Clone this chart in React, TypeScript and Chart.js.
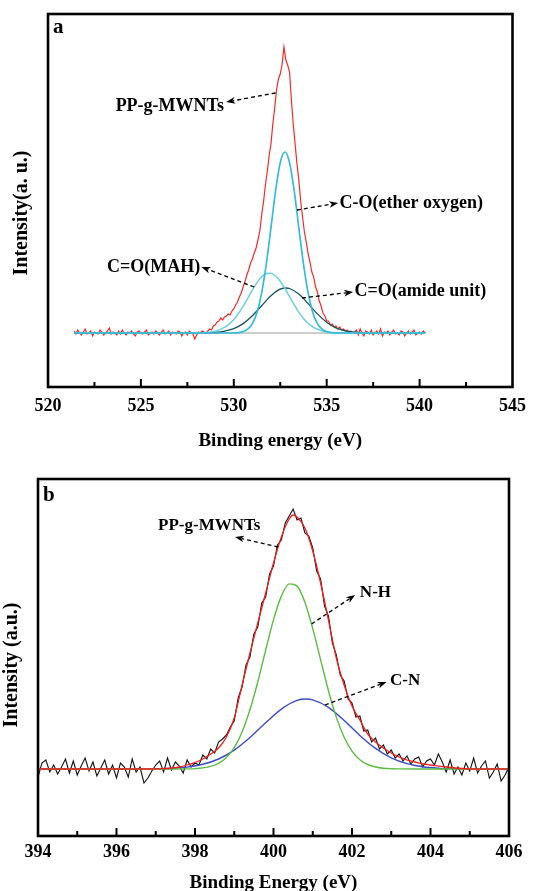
import React, { useEffect, useRef } from 'react';
import { Chart, registerables } from 'chart.js';

Chart.register(...registerables);

const FONT = '"Liberation Serif", "Times New Roman", serif';

// ---------------- Panel a : O 1s (Binding energy, eV) ----------------
const A_X_MIN = 520;
const A_X_MAX = 545;
const A_Y_MIN = -54;
const A_Y_MAX = 319;
const A_STEP = 0.1;

// raw spectrum (red), three segments sampled every 0.1 eV
const A_RED_LEFT_START = 521.4;
const A_RED_LEFT = [
  2, -1, 3, 0, -2, 1, 4, -1, 0, 2,
  -3, 1, 0, -1, 3, 1, -2, 0, 2, 5,
  -1, 1, 0, -2, 2, -1, 3, 0, -2, 1,
  0, 2, -1, -3, 1, 2, 0, -1, 1, 3,
  -2, 0, 1, -1, 2, 0, -2, 1, 3, -1,
  0, 2, -2, 1, 0, -1, 2, 1, -3, 0,
  1, -2, 2, 0, -1, -6, -2, 1, 0, 2,
  1, 0,
];
const A_RED_MID_START = 528.6;
const A_RED_MID = [
  2, 4, 3, 7, 8, 11, 12, 15, 13, 16,
  17, 19, 18, 22, 24, 28, 31, 36, 40, 46,
  51, 58, 63, 70, 74, 80, 85, 93, 102, 118,
  131, 148, 161, 177, 189, 209, 225, 243, 254, 259,
  269, 286, 273, 268, 261, 233, 209, 189, 169, 153,
  132, 116, 101, 91, 79, 71, 61, 56, 46, 41,
  32, 27, 20, 17, 12, 12, 8, 9, 6, 7,
  4, 6, 3, 4, 2, 3, 1, 2, 0, 1,
];
const A_RED_RIGHT_START = 536.6;
const A_RED_RIGHT = [
  3, -2, 4, 0, -3, 2, 1, -1, 3, -2,
  0, 2, -1, 4, -3, 1, 0, 2, -2, 1,
  3, -1, 0, -2, 2, 1, -3, 0, 2, -1,
  1, 3, -2, 0, 1, -1, 2, 0,
];

// fitted components [eV, intensity]
const A_CO_ETHER: [number, number][] = [
  [521.4, 0], [529.75, 0], [530, 0.1], [530.25, 0.4], [530.5, 1.4], [530.75, 3.8],
  [531, 9.4], [531.25, 20.6], [531.5, 40.1], [531.75, 69], [532, 105.2], [532.25, 142.3],
  [532.5, 170.4], [532.75, 181], [533, 170.4], [533.25, 142.3], [533.5, 105.2], [533.75, 69],
  [534, 40.1], [534.25, 20.6], [534.5, 9.4], [534.75, 3.8], [535, 1.4], [535.25, 0.4],
  [535.5, 0.1], [535.75, 0], [540.3, 0],
];
const A_CO_MAH: [number, number][] = [
  [521.4, 0], [527.5, 0], [528, 0.1], [528.5, 0.5], [529, 1.9], [529.5, 5.6], [529.75, 8.9],
  [530, 13.5], [530.25, 19.5], [530.5, 26.7], [530.75, 34.7], [531, 42.9], [531.25, 50.4],
  [531.5, 56.2], [531.75, 59.4], [532, 59.8], [532.25, 57], [532.5, 51.7], [532.75, 44.5],
  [533, 36.4], [533.25, 28.3], [533.5, 20.8], [533.75, 14.6], [534, 9.7], [534.25, 6.1],
  [534.5, 3.7], [535, 1.1], [535.5, 0.3], [536, 0], [540.3, 0],
];
const A_CO_AMIDE: [number, number][] = [
  [521.4, 0], [527.5, 0], [528, 0.05], [528.5, 0.2], [529, 0.6], [529.5, 1.8], [530, 4.4],
  [530.5, 9.4], [531, 17.3], [531.5, 27.3], [532, 37.2], [532.5, 43.8], [532.8, 45],
  [533, 44.5], [533.5, 38.9], [534, 29.4], [534.5, 19.1], [535, 10.8], [535.5, 5.2],
  [536, 2.2], [536.5, 0.8], [537, 0.2], [537.5, 0], [540.3, 0],
];
const A_BACKGROUND: [number, number][] = [[521.4, 0], [540.3, 0]];

type Note = {
  text: string;
  from: [number, number];
  to: [number, number];
  at: [number, number];
  align: CanvasTextAlign;
};

const A_NOTES: Note[] = [
  { text: 'PP-g-MWNTs', from: [532.25, 240], to: [529.59, 231], at: [529.47, 227], align: 'right' },
  { text: 'C-O(ether oxygen)', from: [533.4, 123], to: [535.62, 130], at: [535.69, 130], align: 'left' },
  { text: 'C=O(MAH)', from: [531.1, 46], to: [528.26, 66], at: [528.19, 66], align: 'right' },
  { text: 'C=O(amide unit)', from: [533.67, 35], to: [536.42, 41], at: [536.49, 42], align: 'left' },
];

// ---------------- Panel b : N 1s (Binding Energy, eV) ----------------
const B_X_MIN = 394;
const B_X_MAX = 406;
const B_Y_MIN = -67;
const B_Y_MAX = 290;
const B_STEP = 0.1;

const B_RAW_START = 394.0;
const B_RAW = [
  -8, 6, 9, -3, 4, -5, 2, 10, -4, 8,
  -6, 3, 11, -2, 7, -7, 1, 9, -5, 4,
  -9, 6, 2, -8, 10, -3, 2, -14, -9, -2,
  4,
  8, -3, 11, -1, 7, 3, -4, 9, 2, 6,
  4, 14, 10, 20, 16, 27, 30, 34, 42,
  48, 71, 82, 104, 112, 135, 142, 166, 172, 195,
  203, 224, 229, 246, 253, 260, 249, 251, 236, 233,
  221, 198, 190, 163, 153, 126, 114, 94, 88, 70,
  66, 52, 53, 38, 39, 27, 31, 20, 24, 15,
  19, 11, 15, 8, 13, 5, 10, 12, 2, 8,
  10, 4, 15, 7, -3, 9, -5, 2, -6, 6,
  -2, 11, -4, 3, 8, -9, -3, 5, -12, -6, 2,
];

const B_ENVELOPE: [number, number][] = [
  [394, 0], [397, 0], [397.2, 0.3], [397.4, 1], [397.6, 2], [397.8, 4], [398, 6.5],
  [398.2, 10], [398.4, 15], [398.6, 21], [398.8, 32], [399, 51], [399.2, 84], [399.4, 116],
  [399.6, 146], [399.8, 176], [400, 206], [400.2, 232], [400.4, 250], [400.5, 254],
  [400.6, 252], [400.8, 241], [401, 218], [401.2, 186], [401.4, 149], [401.6, 111],
  [401.8, 84], [402, 63], [402.2, 49], [402.4, 35], [402.6, 27], [402.8, 21], [403, 16],
  [403.2, 12], [403.4, 9], [403.6, 7], [403.8, 5], [404, 4], [404.4, 2], [404.8, 0.5],
  [405.2, 0], [406, 0],
];
const B_NH: [number, number][] = [
  [394, 0], [397.4, 0], [397.8, 0.15], [398, 0.4], [398.2, 1.1], [398.4, 2.6], [398.6, 5.6],
  [398.8, 11.4], [399, 21.4], [399.2, 37.1], [399.4, 59.2], [399.6, 87.2], [399.8, 118.7],
  [400, 149.1], [400.2, 172.9], [400.4, 185.1], [400.6, 182.9], [400.8, 166.8], [401, 140.4],
  [401.2, 109.2], [401.4, 78.3], [401.6, 51.9], [401.8, 31.7], [402, 17.9], [402.2, 9.3],
  [402.4, 4.5], [402.6, 2], [402.8, 0.8], [403, 0.3], [403.2, 0.1], [403.6, 0], [406, 0],
];
const B_CN: [number, number][] = [
  [394, 0], [396.2, 0], [396.6, 0.06], [397, 0.2], [397.4, 0.7], [397.8, 1.9], [398.2, 4.7],
  [398.6, 10], [399, 18.9], [399.4, 31.5], [399.8, 46.2], [400.2, 59.9], [400.6, 68.6],
  [400.83, 70], [401, 69.2], [401.4, 61.7], [401.8, 48.5], [402.2, 33.6], [402.6, 20.6],
  [403, 11.1], [403.4, 5.3], [403.8, 2.2], [404.2, 0.8], [404.6, 0.3], [405, 0.1],
  [405.4, 0], [406, 0],
];

const B_NOTES: Note[] = [
  { text: 'PP-g-MWNTs', from: [400.12, 222], to: [399.02, 232], at: [397.06, 243], align: 'left' },
  { text: 'N-H', from: [400.97, 145], to: [402.08, 174], at: [402.2, 176], align: 'left' },
  { text: 'C-N', from: [401.31, 64], to: [402.88, 87], at: [402.97, 88], align: 'left' },
];

// ---------------- helpers ----------------
function seq(start: number, step: number, values: number[]) {
  return values.map((v, i) => ({ x: Math.round((start + i * step) * 1000) / 1000, y: v }));
}
function pts(arr: [number, number][]) {
  return arr.map(([x, y]) => ({ x, y }));
}

interface Decor {
  letter: string;
  letterX: number;
  letterY: number;
  xTitle: string;
  xTitleY: number;
  yTitle: string;
  yTitleX: number;
  yTitleY: number;
  major: number;
  minor: number;
  notes: Note[];
  noteSize: number;
}

function decorPlugin(d: Decor) {
  return {
    id: 'decor',
    afterDatasetsDraw(chart: any) {
      const { ctx, scales } = chart;
      const x = scales.x;
      const y = scales.y;
      ctx.save();
      ctx.fillStyle = '#000';
      ctx.strokeStyle = '#000';
      for (const n of d.notes) {
        const sx = x.getPixelForValue(n.from[0]);
        const sy = y.getPixelForValue(n.from[1]);
        const ex = x.getPixelForValue(n.to[0]);
        const ey = y.getPixelForValue(n.to[1]);
        const ang = Math.atan2(ey - sy, ex - sx);
        const hl = 9;
        const hw = 3.4;
        const bx = ex - hl * Math.cos(ang);
        const by = ey - hl * Math.sin(ang);
        ctx.lineWidth = 1.3;
        ctx.setLineDash([4, 3]);
        ctx.beginPath();
        ctx.moveTo(sx, sy);
        ctx.lineTo(bx + 2 * Math.cos(ang), by + 2 * Math.sin(ang));
        ctx.stroke();
        ctx.setLineDash([]);
        ctx.beginPath();
        ctx.moveTo(ex, ey);
        ctx.lineTo(bx - hw * Math.sin(ang), by + hw * Math.cos(ang));
        ctx.lineTo(bx + 2.5 * Math.cos(ang), by + 2.5 * Math.sin(ang));
        ctx.lineTo(bx + hw * Math.sin(ang), by - hw * Math.cos(ang));
        ctx.closePath();
        ctx.fill();
        ctx.font = `bold ${d.noteSize}px ${FONT}`;
        ctx.textAlign = n.align;
        ctx.textBaseline = 'middle';
        ctx.fillText(n.text, x.getPixelForValue(n.at[0]), y.getPixelForValue(n.at[1]));
      }
      ctx.restore();
    },
    afterDraw(chart: any) {
      const { ctx, chartArea: ca, scales } = chart;
      const x = scales.x;
      ctx.save();
      ctx.strokeStyle = '#000';
      ctx.fillStyle = '#000';
      // frame
      ctx.lineWidth = 2.6;
      ctx.strokeRect(ca.left, ca.top, ca.right - ca.left, ca.bottom - ca.top);
      // inward ticks on bottom axis
      ctx.lineWidth = 2;
      const min = x.min;
      const max = x.max;
      const count = Math.round((max - min) / d.minor);
      for (let i = 1; i < count; i++) {
        const v = min + i * d.minor;
        const px = x.getPixelForValue(v);
        const r = (v - min) / d.major;
        const isMajor = Math.abs(r - Math.round(r)) < 1e-6;
        const len = isMajor ? 8 : 5;
        ctx.beginPath();
        ctx.moveTo(px, ca.bottom);
        ctx.lineTo(px, ca.bottom - len);
        ctx.stroke();
      }
      // x title
      ctx.font = `bold 19px ${FONT}`;
      ctx.textAlign = 'center';
      ctx.textBaseline = 'alphabetic';
      ctx.fillText(d.xTitle, (ca.left + ca.right) / 2, d.xTitleY);
      // y title
      ctx.save();
      ctx.translate(d.yTitleX, d.yTitleY);
      ctx.rotate(-Math.PI / 2);
      ctx.font = `bold 20px ${FONT}`;
      ctx.textAlign = 'center';
      ctx.textBaseline = 'middle';
      ctx.fillText(d.yTitle, 0, 0);
      ctx.restore();
      // panel letter
      ctx.font = `bold 21px ${FONT}`;
      ctx.textAlign = 'left';
      ctx.textBaseline = 'alphabetic';
      ctx.fillText(d.letter, d.letterX, d.letterY);
      ctx.restore();
    },
  };
}

function makeChart(
  canvas: HTMLCanvasElement,
  datasets: any[],
  xMin: number,
  xMax: number,
  step: number,
  yMin: number,
  yMax: number,
  pad: { left: number; right: number; top: number; bottom: number },
  xAxisH: number,
  tickPad: number,
  decor: Decor
) {
  return new Chart(canvas, {
    type: 'line',
    data: { datasets },
    options: {
      animation: false,
      responsive: false,
      maintainAspectRatio: false,
      events: [],
      layout: { padding: pad },
      elements: { point: { radius: 0 } },
      plugins: { legend: { display: false }, tooltip: { enabled: false } },
      scales: {
        x: {
          type: 'linear',
          min: xMin,
          max: xMax,
          afterFit: (s: any) => {
            s.height = xAxisH;
          },
          grid: { display: false, drawTicks: false },
          border: { display: false },
          ticks: {
            stepSize: step,
            padding: tickPad,
            autoSkip: false,
            maxRotation: 0,
            color: '#000',
            font: { family: FONT, size: 18, weight: 'bold' },
            callback: (v: any) => String(v),
          },
        },
        y: { display: false, min: yMin, max: yMax },
      },
    } as any,
    plugins: [decorPlugin(decor) as any],
  });
}

export default function App() {
  const refA = useRef<HTMLCanvasElement>(null);
  const refB = useRef<HTMLCanvasElement>(null);

  useEffect(() => {
    const redA = [
      ...seq(A_RED_LEFT_START, A_STEP, A_RED_LEFT),
      ...seq(A_RED_MID_START, A_STEP, A_RED_MID),
      ...seq(A_RED_RIGHT_START, A_STEP, A_RED_RIGHT),
    ];
    const dsA = [
      { label: 'C-O(ether oxygen)', data: pts(A_CO_ETHER), borderColor: '#35bcd6', borderWidth: 1.7, cubicInterpolationMode: 'monotone' },
      { label: 'C=O(MAH)', data: pts(A_CO_MAH), borderColor: '#6ccfe0', borderWidth: 1.5, cubicInterpolationMode: 'monotone' },
      { label: 'C=O(amide unit)', data: pts(A_CO_AMIDE), borderColor: '#15545a', borderWidth: 1.3, cubicInterpolationMode: 'monotone' },
      { label: 'background', data: pts(A_BACKGROUND), borderColor: '#9a9a9a', borderWidth: 1 },
      { label: 'PP-g-MWNTs', data: redA, borderColor: '#f42a2a', borderWidth: 1.2, tension: 0 },
    ];
    const dsB = [
      { label: 'fit', data: pts(B_ENVELOPE), borderColor: '#f41e1e', borderWidth: 1.3, cubicInterpolationMode: 'monotone' },
      { label: 'N-H', data: pts(B_NH), borderColor: '#5cbc44', borderWidth: 1.4, cubicInterpolationMode: 'monotone' },
      { label: 'C-N', data: pts(B_CN), borderColor: '#3a4cc0', borderWidth: 1.4, cubicInterpolationMode: 'monotone' },
      { label: 'PP-g-MWNTs', data: seq(B_RAW_START, B_STEP, B_RAW), borderColor: '#111111', borderWidth: 1.1, tension: 0 },
    ];

    const a = makeChart(
      refA.current!, dsA, A_X_MIN, A_X_MAX, 5, A_Y_MIN, A_Y_MAX,
      { left: 48, right: 17, top: 14, bottom: 0 }, 455 - 387, 9,
      {
        letter: 'a', letterX: 53, letterY: 33,
        xTitle: 'Binding energy (eV)', xTitleY: 446,
        yTitle: 'Intensity(a. u.)', yTitleX: 22, yTitleY: 213,
        major: 5, minor: 2.5, notes: A_NOTES, noteSize: 18,
      }
    );
    const b = makeChart(
      refB.current!, dsB, B_X_MIN, B_X_MAX, 2, B_Y_MIN, B_Y_MAX,
      { left: 38, right: 26, top: 24, bottom: 0 }, 436 - 381, 6,
      {
        letter: 'b', letterX: 43, letterY: 46,
        xTitle: 'Binding Energy (eV)', xTitleY: 433,
        yTitle: 'Intensity (a.u.)', yTitleX: 12, yTitleY: 210,
        major: 2, minor: 1, notes: B_NOTES, noteSize: 17,
      }
    );
    return () => {
      a.destroy();
      b.destroy();
    };
  }, []);

  return (
    <div style={{ position: 'absolute', left: 0, top: 0, width: 535, height: 891, background: '#fff' }}>
      <canvas ref={refA} width={535} height={455} style={{ position: 'absolute', left: 0, top: 0, width: 535, height: 455 }} />
      <canvas ref={refB} width={535} height={436} style={{ position: 'absolute', left: 0, top: 455, width: 535, height: 436 }} />
    </div>
  );
}
